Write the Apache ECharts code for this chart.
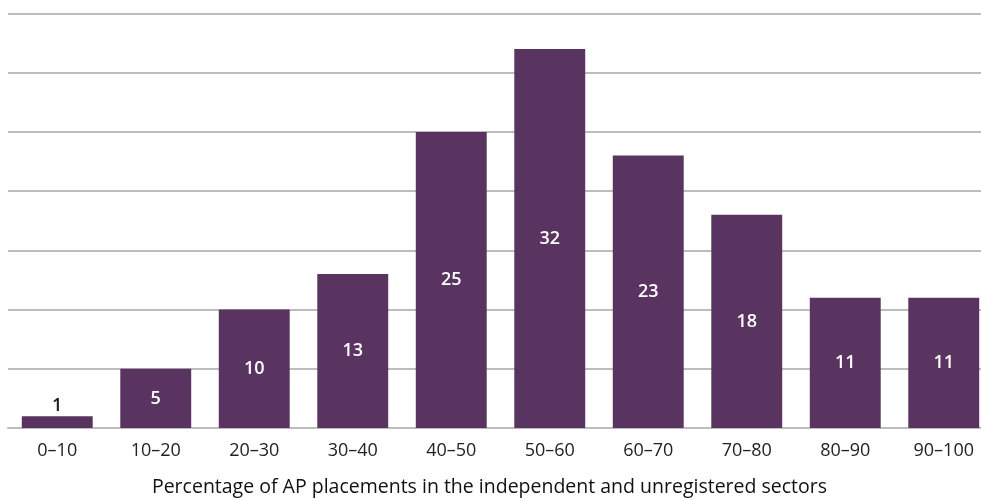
<!DOCTYPE html>
<html>
<head>
<meta charset="utf-8">
<script src="https://cdn.jsdelivr.net/npm/echarts@6/dist/echarts.min.js"></script>
<style>
  html, body { margin: 0; padding: 0; background: #fff; }
  #main { width: 981px; height: 501px; }
</style>
</head>
<body>
<div id="main"></div>
<script>
  var categories = ['0\u201310', '10\u201320', '20\u201330', '30\u201340', '40\u201350', '50\u201360', '60\u201370', '70\u201380', '80\u201390', '90\u2013100'];
  var values = [1, 5, 10, 13, 25, 32, 23, 18, 11, 11];
  var axisTitle = 'Percentage of AP placements in the independent and unregistered sectors';

  var myChart = echarts.init(document.getElementById('main'));

  // small bars get their label on top, in dark text
  var barData = values.map(function (v) {
    if (v < 3) {
      return { value: v, label: { position: 'top', color: '#1a1a1a', distance: 1 } };
    }
    return v;
  });

  var option = {
    animation: false,
    textStyle: { fontFamily: '"Open Sans", sans-serif' },
    grid: { left: 8, top: 13.5, width: 985, height: 414.5, outerBoundsMode: 'none', containLabel: false },
    xAxis: {
      type: 'category',
      data: categories,
      axisTick: { show: false },
      axisLine: { lineStyle: { color: '#bdbdbd', width: 2 } },
      axisLabel: { color: '#222', fontSize: 18, margin: 14 },
      name: axisTitle,
      nameLocation: 'middle',
      nameGap: 49,
      nameTextStyle: { color: '#111', fontSize: 19.5, fontWeight: 500, padding: [0, 22, 0, 0] }
    },
    yAxis: {
      type: 'value',
      min: 0,
      max: 35,
      interval: 5,
      axisLabel: { show: false },
      axisLine: { show: false },
      axisTick: { show: false },
      splitLine: { lineStyle: { color: '#bdbdbd', width: 2 } }
    },
    series: [{
      type: 'bar',
      data: barData,
      barCategoryGap: '28%',
      itemStyle: { color: '#5a3461' },
      label: {
        show: true,
        position: 'inside',
        color: '#fff',
        fontSize: 18,
        fontWeight: 600
      }
    }]
  };

  myChart.setOption(option);
</script>
</body>
</html>
